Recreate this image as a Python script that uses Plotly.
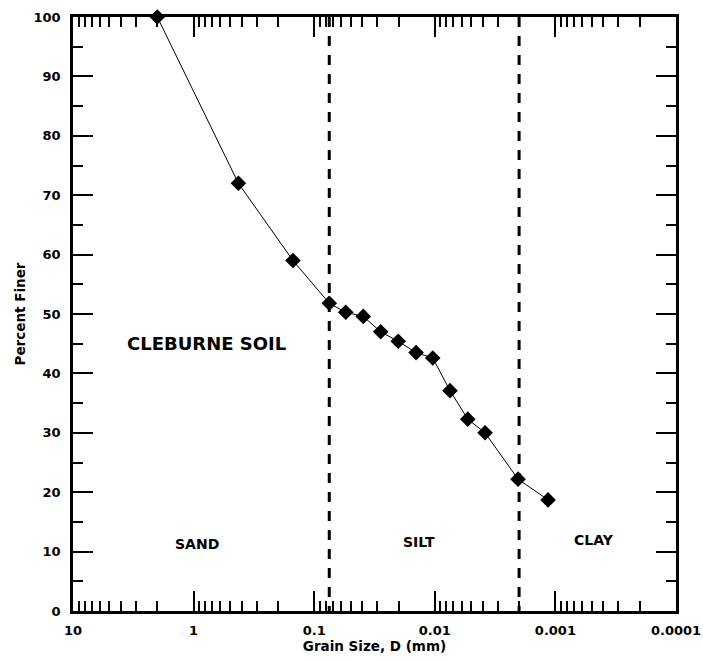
import numpy as np
import plotly.graph_objects as go

# Grain size distribution of Cleburne soil
grain_size_mm = [2.0, 0.425, 0.15, 0.075, 0.0548, 0.0392, 0.0281, 0.0201,
                 0.0143, 0.0104, 0.00748, 0.00533, 0.00383, 0.00204, 0.00115]
percent_finer = [100.0, 72.0, 59.0, 51.8, 50.3, 49.6, 47.0, 45.4,
                 43.5, 42.6, 37.1, 32.3, 30.0, 22.2, 18.7]

# Sand/silt and silt/clay boundaries (mm)
boundaries_mm = [0.075, 0.002]

x_tick_vals = [10, 1, 0.1, 0.01, 0.001, 0.0001]
x_tick_text = ["10", "1", "0.1", "0.01", "0.001", "0.0001"]
y_tick_vals = [0, 10, 20, 30, 40, 50, 60, 70, 80, 90, 100]

FONT = "DejaVu Sans"

fig = go.Figure()

for b in boundaries_mm:
    fig.add_trace(go.Scatter(
        x=[b, b], y=[100, 0], mode="lines",
        line=dict(color="black", width=3, dash="10px,9px"),
        hoverinfo="skip", showlegend=False,
    ))

fig.add_trace(go.Scatter(
    x=grain_size_mm, y=percent_finer, mode="lines+markers",
    line=dict(color="black", width=1),
    marker=dict(symbol="diamond", size=12, color="black"),
    showlegend=False, cliponaxis=False,
))

labels = [
    ("CLEBURNE SOIL", 0.776, 45.0, 18),
    ("SAND", 0.93, 11.3, 14),
    ("SILT", 0.0135, 11.7, 14),
    ("CLAY", 0.000478, 12.0, 14),
]
for text, xv, yv, size in labels:
    fig.add_annotation(
        x=np.log10(xv), y=yv, xref="x", yref="y", text=text, showarrow=False,
        font=dict(family=FONT, size=size, color="black", weight="bold"),
    )

axis_common = dict(
    showline=True, linewidth=2.5, linecolor="black", mirror="ticks",
    ticks="inside", ticklen=20, tickwidth=2, tickcolor="black",
    showgrid=False, zeroline=False, automargin=False,
    tickfont=dict(family=FONT, size=13, color="black", weight="bold"),
    title_font=dict(family=FONT, size=13.5, color="black", weight="bold"),
)

fig.update_xaxes(
    type="log", range=[1, -4],
    tickmode="array", tickvals=x_tick_vals, ticktext=x_tick_text,
    minor=dict(ticks="inside", ticklen=10, tickwidth=2, tickcolor="black",
               dtick="D1", showgrid=False),
    title_text="Grain Size, D (mm)", title_standoff=0,
    ticklabelstandoff=6,
    **axis_common,
)
fig.update_yaxes(
    range=[0, 100], tickmode="array", tickvals=y_tick_vals,
    minor=dict(ticks="inside", ticklen=10, tickwidth=2, tickcolor="black",
               dtick=5, showgrid=False),
    title_text="Percent Finer", title_standoff=5,
    ticklabelstandoff=7,
    **axis_common,
)

fig.update_layout(
    width=703, height=661,
    margin=dict(l=73, r=27, t=17, b=50),
    plot_bgcolor="white", paper_bgcolor="white",
)

fig.write_html("out.html")
